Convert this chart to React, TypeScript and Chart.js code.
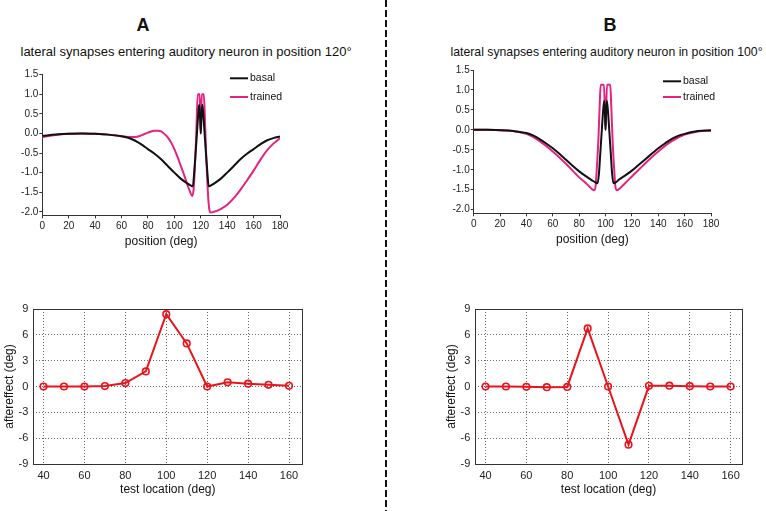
import React, { useEffect, useRef } from "react";
import { Chart, registerables } from "chart.js";

Chart.register(...registerables);

const FONT = '"Liberation Sans", Arial, Helvetica, sans-serif';
const BLACK = "#111111";
const PINK = "#e3237f";
const RED = "#e8141c";

// ---------- Panel A (top): auditory neuron in position 120° ----------
const A_BASAL_X = [0, 10, 20, 30, 40, 50, 60, 65, 70, 75, 80, 85, 90, 95, 100, 105, 110, 112, 114, 115, 116, 117, 118, 118.8, 119.5, 120, 120.5, 121.2, 122, 123, 124, 125, 126, 128, 130, 135, 140, 145, 150, 155, 160, 165, 170, 175, 180];
const A_BASAL_Y = [-0.06, -0.03, -0.01, 0.0, -0.01, -0.03, -0.07, -0.11, -0.18, -0.28, -0.4, -0.52, -0.66, -0.83, -1.0, -1.16, -1.28, -1.32, -1.35, -1.0, -0.55, -0.05, 0.45, 0.73, 0.4, 0.0, 0.4, 0.73, 0.45, -0.05, -0.55, -1.0, -1.35, -1.32, -1.28, -1.16, -1.0, -0.83, -0.66, -0.52, -0.4, -0.28, -0.18, -0.12, -0.08];
const A_TRAINED_X = [0, 10, 20, 30, 40, 50, 60, 65, 70, 75, 80, 85, 88, 90, 93, 95, 98, 100, 103, 105, 108, 110, 112, 113.5, 114.5, 115.5, 116.5, 117.7, 119.2, 120, 120.8, 122.3, 123.3, 124.3, 125.3, 126.3, 127.5, 130, 135, 140, 145, 150, 155, 160, 165, 170, 175, 180];
const A_TRAINED_Y = [-0.09, -0.04, -0.01, 0.0, -0.01, -0.03, -0.07, -0.09, -0.09, -0.05, 0.02, 0.07, 0.07, 0.05, -0.03, -0.1, -0.26, -0.4, -0.65, -0.84, -1.12, -1.32, -1.5, -1.6, -1.45, -0.9, -0.1, 1.0, 1.0, 0.0, 1.0, 1.0, 0.2, -0.7, -1.45, -1.9, -2.02, -2.0, -1.93, -1.82, -1.65, -1.44, -1.2, -0.95, -0.68, -0.44, -0.26, -0.12];

// ---------- Panel B (top): auditory neuron in position 100° ----------
const B_BASAL_X = [0, 10, 20, 30, 40, 45, 50, 55, 60, 65, 70, 75, 80, 85, 90, 92, 94, 95, 96, 97, 98, 99, 99.6, 100, 100.4, 101, 102, 103, 104, 105, 106, 108, 110, 115, 120, 125, 130, 135, 140, 145, 150, 155, 160, 170, 180];
const B_BASAL_Y = [0.0, 0.0, -0.01, -0.03, -0.08, -0.14, -0.23, -0.34, -0.46, -0.6, -0.75, -0.9, -1.04, -1.16, -1.27, -1.31, -1.34, -1.1, -0.6, -0.1, 0.4, 0.73, 0.4, 0.0, 0.4, 0.73, 0.4, -0.1, -0.6, -1.1, -1.34, -1.31, -1.25, -1.14, -1.02, -0.88, -0.74, -0.6, -0.46, -0.34, -0.23, -0.15, -0.1, -0.03, -0.01];
const B_TRAINED_X = [0, 10, 20, 30, 40, 50, 60, 70, 80, 85, 88, 90, 91.5, 92.5, 93.5, 94.5, 95.5, 96.3, 98.8, 100, 101.1, 103.6, 104.4, 105.4, 106.4, 107.4, 108.5, 110, 112, 115, 120, 130, 140, 150, 160, 170, 180];
const B_TRAINED_Y = [0.0, 0.0, -0.01, -0.03, -0.1, -0.28, -0.54, -0.85, -1.19, -1.33, -1.43, -1.49, -1.51, -1.4, -0.9, -0.3, 0.55, 1.13, 1.13, 0.0, 1.13, 1.13, 0.55, -0.3, -0.9, -1.4, -1.51, -1.49, -1.43, -1.33, -1.17, -0.84, -0.54, -0.29, -0.12, -0.04, -0.02];

const POSITION_TICKS = [0, 20, 40, 60, 80, 100, 120, 140, 160, 180];
const RESPONSE_TICKS = [1.5, 1.0, 0.5, 0.0, -0.5, -1.0, -1.5, -2.0];
const SERIES_NAMES = ["basal", "trained"];

// ---------- Bottom panels: aftereffect vs test location ----------
const TEST_LOCATIONS = [40, 50, 60, 70, 80, 90, 100, 110, 120, 130, 140, 150, 160];
const AFTEREFFECT_A = [0.0, 0.0, 0.0, 0.05, 0.4, 1.75, 8.4, 5.0, 0.0, 0.48, 0.33, 0.2, 0.08];
const AFTEREFFECT_B = [0.0, 0.0, -0.04, -0.08, -0.05, 6.75, 0.0, -6.75, 0.08, 0.1, 0.04, 0.0, 0.0];
const TEST_TICKS = [40, 60, 80, 100, 120, 140, 160];
const AFTER_TICKS = [-9, -6, -3, 0, 3, 6, 9];

const zip = (xs: number[], ys: number[]) => xs.map((x, i) => ({ x, y: ys[i] }));

const lineLegend = {
  id: "lineLegend",
  afterDraw(chart: any, _args: any, opts: any) {
    if (!opts || opts.x === undefined) return;
    const ctx = chart.ctx;
    ctx.save();
    chart.data.datasets.forEach((ds: any, i: number) => {
      const y = opts.y + i * opts.gap;
      ctx.strokeStyle = ds.borderColor;
      ctx.lineWidth = 2;
      ctx.beginPath();
      ctx.moveTo(opts.x, y);
      ctx.lineTo(opts.x + opts.len, y);
      ctx.stroke();
      ctx.fillStyle = "#111";
      ctx.font = `10.5px ${FONT}`;
      ctx.textBaseline = "middle";
      ctx.textAlign = "left";
      ctx.fillText(ds.label, opts.x + opts.len + 2, y);
    });
    ctx.restore();
  },
};

const frameBox = {
  id: "frameBox",
  beforeDatasetsDraw(chart: any) {
    const { left, top, right, bottom } = chart.chartArea;
    const ctx = chart.ctx;
    ctx.save();
    ctx.strokeStyle = "#333";
    ctx.lineWidth = 1;
    const l = Math.round(left) + 0.5;
    const t = Math.round(top) + 0.5;
    const r = Math.round(right) + 0.5;
    const b = Math.round(bottom) + 0.5;
    ctx.strokeRect(l, t, r - l, b - t);
    ctx.restore();
  },
};

function profileConfig(p: any) {
  return {
    type: "line",
    data: {
      datasets: [
        { label: SERIES_NAMES[0], data: zip(p.bx, p.by), borderColor: BLACK, borderWidth: 2, pointRadius: 0, cubicInterpolationMode: "monotone", fill: false },
        { label: SERIES_NAMES[1], data: zip(p.tx, p.ty), borderColor: PINK, borderWidth: 2, pointRadius: 0, cubicInterpolationMode: "monotone", fill: false },
      ],
    },
    options: {
      responsive: false,
      animation: false,
      events: [],
      layout: { padding: { left: 0, right: p.padR, top: p.padT, bottom: 0 } },
      plugins: {
        legend: { display: false },
        tooltip: { enabled: false },
        lineLegend: p.legend,
      },
      scales: {
        x: {
          type: "linear",
          min: 0,
          max: 180,
          afterBuildTicks: (s: any) => { s.ticks = POSITION_TICKS.map((v) => ({ value: v })); },
          afterFit: (s: any) => { s.height = p.xH; },
          grid: { drawOnChartArea: false, drawTicks: true, tickLength: 3, color: "#333", lineWidth: 1 },
          border: { display: true, color: "#333", width: 1 },
          ticks: { font: { family: FONT, size: 10 }, color: "#222", padding: 2, maxRotation: 0, autoSkip: false },
          title: { display: true, text: "position (deg)", font: { family: FONT, size: 12 }, color: "#111", padding: { top: 0, bottom: p.titlePadB } },
        },
        y: {
          type: "linear",
          min: -2.09,
          max: 1.5,
          afterBuildTicks: (s: any) => { s.ticks = RESPONSE_TICKS.map((v) => ({ value: v })); },
          afterFit: (s: any) => { s.width = p.yW; },
          grid: { drawOnChartArea: false, drawTicks: true, tickLength: 3, color: "#333", lineWidth: 1 },
          border: { display: true, color: "#333", width: 1 },
          ticks: { font: { family: FONT, size: 10 }, color: "#222", padding: 1, callback: (v: any) => Number(v).toFixed(1) },
        },
      },
    },
    plugins: [lineLegend],
  };
}

function aftereffectConfig(p: any) {
  return {
    type: "line",
    data: {
      datasets: [
        {
          label: "aftereffect",
          data: zip(TEST_LOCATIONS, p.values),
          borderColor: RED,
          borderWidth: 2,
          tension: 0,
          pointRadius: 3.3,
          pointBorderWidth: 1.6,
          pointBorderColor: RED,
          pointBackgroundColor: "rgba(0,0,0,0)",
          fill: false,
          clip: false,
        },
      ],
    },
    options: {
      responsive: false,
      animation: false,
      events: [],
      layout: { padding: { left: p.padL, right: p.padR, top: 19, bottom: 0 } },
      plugins: { legend: { display: false }, tooltip: { enabled: false } },
      scales: {
        x: {
          type: "linear",
          min: 35,
          max: p.xMax,
          afterBuildTicks: (s: any) => { s.ticks = TEST_TICKS.map((v) => ({ value: v })); },
          afterFit: (s: any) => { s.height = 37; },
          grid: { drawOnChartArea: true, drawTicks: false, color: "#6a6a6a", lineWidth: 1 },
          border: { display: false, dash: [1, 2] },
          ticks: { font: { family: FONT, size: 11 }, color: "#222", padding: 5, maxRotation: 0, autoSkip: false },
          title: { display: true, text: "test location (deg)", font: { family: FONT, size: 12 }, color: "#111", padding: { top: 0, bottom: 3.8 } },
        },
        y: {
          type: "linear",
          min: -9,
          max: 9,
          afterBuildTicks: (s: any) => { s.ticks = AFTER_TICKS.map((v) => ({ value: v })); },
          afterFit: (s: any) => { s.width = 33.3; },
          grid: { drawOnChartArea: true, drawTicks: false, color: "#6a6a6a", lineWidth: 1 },
          border: { display: false, dash: [1, 2] },
          ticks: { font: { family: FONT, size: 11 }, color: "#222", padding: 5 },
          title: { display: true, text: "aftereffect (deg)", font: { family: FONT, size: 12 }, color: "#111", padding: { top: 2, bottom: 0 } },
        },
      },
    },
    plugins: [frameBox],
  };
}

function ChartBox(props: { left: number; top: number; width: number; height: number; make: () => any }) {
  const ref = useRef<HTMLCanvasElement>(null);
  useEffect(() => {
    const chart = new Chart(ref.current as HTMLCanvasElement, props.make());
    return () => chart.destroy();
  }, []);
  return (
    <canvas
      ref={ref}
      width={props.width}
      height={props.height}
      style={{ position: "absolute", left: props.left, top: props.top, width: props.width, height: props.height }}
    />
  );
}

const textBase: React.CSSProperties = { position: "absolute", fontFamily: FONT, color: "#111", whiteSpace: "nowrap", margin: 0 };

export default function App() {
  return (
    <div style={{ position: "absolute", left: 0, top: 0, width: 766, height: 511, background: "#fff", overflow: "hidden" }}>
      <div style={{ ...textBase, left: 113, top: 14, width: 60, textAlign: "center", fontSize: 18, lineHeight: "22px", fontWeight: "bold" }}>A</div>
      <div style={{ ...textBase, left: 580, top: 14, width: 60, textAlign: "center", fontSize: 18, lineHeight: "22px", fontWeight: "bold" }}>B</div>
      <div style={{ ...textBase, left: 20.5, top: 44, fontSize: 13, lineHeight: "16px" }}>lateral synapses entering auditory neuron in position 120°</div>
      <div style={{ ...textBase, left: 450.5, top: 44.5, fontSize: 12.25, lineHeight: "15px" }}>lateral synapses entering auditory neuron in position 100°</div>
      <svg style={{ position: "absolute", left: 383, top: 0 }} width={6} height={511}>
        <line x1={3} y1={0} x2={3} y2={511} stroke="#111" strokeWidth={2} strokeDasharray="7 3" />
      </svg>
      <ChartBox
        left={0}
        top={60}
        width={380}
        height={190}
        make={() =>
          profileConfig({ bx: A_BASAL_X, by: A_BASAL_Y, tx: A_TRAINED_X, ty: A_TRAINED_Y, padR: 100, padT: 14.7, yW: 42.3, xH: 34.7, titlePadB: 0.8, legend: { x: 230, y: 18.3, gap: 18.7, len: 18 } })
        }
      />
      <ChartBox
        left={420}
        top={60}
        width={346}
        height={190}
        make={() =>
          profileConfig({ bx: B_BASAL_X, by: B_BASAL_Y, tx: B_TRAINED_X, ty: B_TRAINED_Y, padR: 55, padT: 10, yW: 53.7, xH: 36.7, titlePadB: 3.5, legend: { x: 243, y: 21.3, gap: 15.7, len: 18 } })
        }
      />
      <ChartBox left={0} top={290} width={330} height={211} make={() => aftereffectConfig({ values: AFTEREFFECT_A, padL: 0, padR: 27.7, xMax: 166.5 })} />
      <ChartBox left={420} top={290} width={346} height={211} make={() => aftereffectConfig({ values: AFTEREFFECT_B, padL: 22, padR: 24.3, xMax: 165.4 })} />
    </div>
  );
}
